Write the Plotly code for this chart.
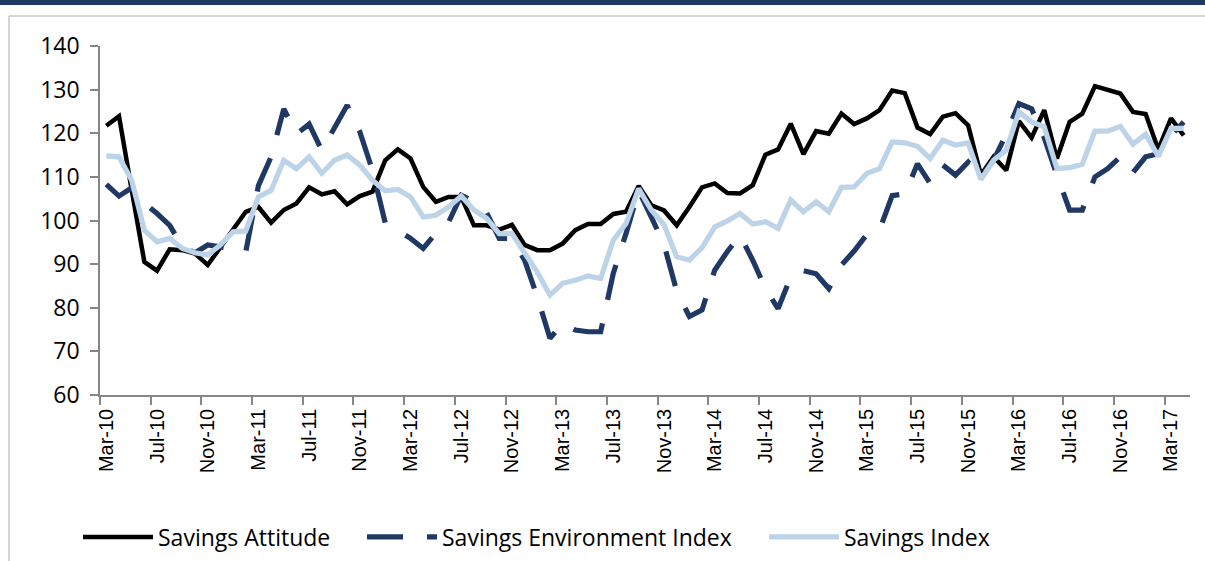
import pandas as pd
import plotly.graph_objects as go

# ---- data ----
months = pd.date_range("2010-03-01", "2017-04-01", freq="MS").strftime("%b-%y").tolist()

savings_attitude = [
    121.7, 123.9, 107.0, 90.5, 88.5, 93.4, 93.2, 92.4, 89.8, 94.0,
    98.2, 102.0, 103.1, 99.5, 102.4, 103.9, 107.6, 106.0, 106.7, 103.7,
    105.6, 106.6, 113.8, 116.3, 114.2, 107.7, 104.3, 105.4, 105.4, 98.9,
    98.9, 97.9, 99.0, 94.4, 93.2, 93.2, 94.7, 97.8, 99.2, 99.2,
    101.5, 102.0, 107.9, 103.5, 102.3, 98.9, 103.1, 107.6, 108.5, 106.3,
    106.2, 108.1, 115.1, 116.3, 122.2, 115.2, 120.5, 119.9, 124.5, 122.1,
    123.4, 125.3, 129.8, 129.2, 121.3, 119.8, 123.8, 124.6, 121.8, 110.4,
    114.6, 111.5, 122.8, 119.0, 125.3, 114.2, 122.6, 124.5, 130.8, 130.0,
    129.1, 124.9, 124.4, 116.3, 123.4, 119.5,
]

savings_environment_index = [
    108.3, 105.6, 107.5, 104.0, 101.6, 98.9, 94.0, 92.6, 94.4, 94.0,
    93.5, 92.8, 108.0, 114.6, 125.6, 119.8, 122.1, 116.1, 121.1, 126.4,
    120.3, 111.5, 99.5, 97.8, 95.9, 93.6, 97.1, 99.6, 105.8, 104.3,
    101.8, 95.9, 95.9, 90.9, 82.5, 73.0, 76.4, 74.9, 74.5, 74.5,
    87.9, 97.0, 106.8, 100.8, 94.5, 83.8, 78.0, 79.5, 88.6, 92.9,
    96.6, 90.9, 84.4, 79.8, 87.1, 88.5, 87.8, 84.4, 89.8, 93.0,
    96.8, 97.8, 105.7, 106.1, 113.0, 108.5, 112.7, 110.4, 113.4, 110.0,
    113.8, 119.8, 126.8, 125.6, 119.0, 110.4, 102.4, 102.4, 110.0, 111.9,
    114.6, 111.0, 114.6, 115.3, 119.5, 122.6,
]

savings_index = [
    114.8, 114.6, 109.2, 97.8, 95.1, 95.9, 93.6, 92.6, 92.1, 94.4,
    97.4, 97.6, 105.4, 106.9, 113.8, 111.9, 114.6, 110.8, 113.8, 115.0,
    112.7, 109.2, 106.8, 107.1, 105.4, 100.8, 101.2, 103.1, 105.6, 102.4,
    100.5, 97.0, 97.0, 92.4, 88.2, 82.9, 85.6, 86.3, 87.3, 86.7,
    95.5, 99.3, 107.3, 102.4, 99.0, 91.7, 90.9, 93.8, 98.5, 99.9,
    101.6, 99.2, 99.7, 98.2, 104.7, 102.0, 104.3, 102.0, 107.6, 107.7,
    110.8, 111.9, 118.0, 117.8, 117.0, 114.2, 118.4, 117.3, 117.8, 109.4,
    113.8, 116.1, 124.9, 122.6, 121.5, 111.9, 112.1, 112.9, 120.5, 120.5,
    121.6, 117.5, 119.8, 114.7, 121.1, 121.1,
]

series_names = ["Savings Attitude", "Savings Environment Index", "Savings Index"]
y_ticks = [60, 70, 80, 90, 100, 110, 120, 130, 140]

# ---- layout geometry (pixels) ----
W, H = 1205, 561
L, R, T, B = 100, 15, 46, 166
PW, PH = W - L - R, H - T - B


def px_x(px):
    return (px - L) / PW


def px_y(py):
    return (H - B - py) / PH


AXIS_GRAY = "#868686"
NAVY = "#1F3864"
LIGHT = "#BDD3E8"

fig = go.Figure()
fig.add_trace(go.Scatter(
    x=months, y=savings_attitude, name=series_names[0], mode="lines",
    line=dict(color="#000000", width=4.5), legend="legend",
))
fig.add_trace(go.Scatter(
    x=months, y=savings_environment_index, name=series_names[1], mode="lines",
    line=dict(color=NAVY, width=5.2, dash="36px,24px"), legend="legend2",
))
fig.add_trace(go.Scatter(
    x=months, y=savings_index, name=series_names[2], mode="lines",
    line=dict(color=LIGHT, width=5.2), legend="legend3",
))

legend_font = dict(family="Open Sans, Lato, sans-serif", size=23, color="#000000")
leg_common = dict(
    orientation="h", xref="paper", yref="paper", yanchor="middle",
    y=px_y(537), font=legend_font, bgcolor="rgba(0,0,0,0)", itemwidth=70,
    xanchor="left",
)

fig.update_layout(
    width=W, height=H,
    margin=dict(l=L, r=R, t=T, b=B, autoexpand=False),
    plot_bgcolor="white", paper_bgcolor="white",
    showlegend=True,
    legend=dict(x=px_x(78), **leg_common),
    legend2=dict(x=px_x(362), **leg_common),
    legend3=dict(x=px_x(764), **leg_common),
    xaxis=dict(
        type="category", categoryorder="array", categoryarray=months,
        range=[-0.5, len(months) - 0.5],
        tickmode="linear", tick0=0, dtick=4,
        tickson="boundaries",
        ticks="outside", ticklen=8, tickwidth=1.5, tickcolor=AXIS_GRAY,
        tickangle=-90,
        tickfont=dict(family="Liberation Sans, Arial, sans-serif", size=20, color="#000000"),
        ticklabelstandoff=4,
        showline=True, linecolor=AXIS_GRAY, linewidth=1.5,
        showgrid=False, zeroline=False, automargin=False,
    ),
    yaxis=dict(
        range=[60, 140], tickmode="array", tickvals=y_ticks,
        ticks="outside", ticklen=8, tickwidth=1.5, tickcolor=AXIS_GRAY,
        tickfont=dict(family="Open Sans, Lato, sans-serif", size=23, color="#000000"),
        ticklabelstandoff=6,
        showline=True, linecolor=AXIS_GRAY, linewidth=1.5,
        showgrid=False, zeroline=False, automargin=False,
    ),
    shapes=[
        dict(type="rect", xref="paper", yref="paper",
             x0=px_x(-5), x1=px_x(W + 5), y0=px_y(5), y1=px_y(-5),
             fillcolor=NAVY, line=dict(width=0), layer="above"),
        dict(type="line", xref="paper", yref="paper",
             x0=px_x(9), x1=px_x(W + 5), y0=px_y(16), y1=px_y(16),
             line=dict(color="#C8C8C8", width=1.5)),
        dict(type="line", xref="paper", yref="paper",
             x0=px_x(9), x1=px_x(9), y0=px_y(16), y1=px_y(H + 5),
             line=dict(color="#C8C8C8", width=1.5)),
    ],
)

fig.write_html(
    "out.html",
    config={"displayModeBar": False},
    post_script="document.body.style.margin='0';document.body.style.padding='0';",
)
